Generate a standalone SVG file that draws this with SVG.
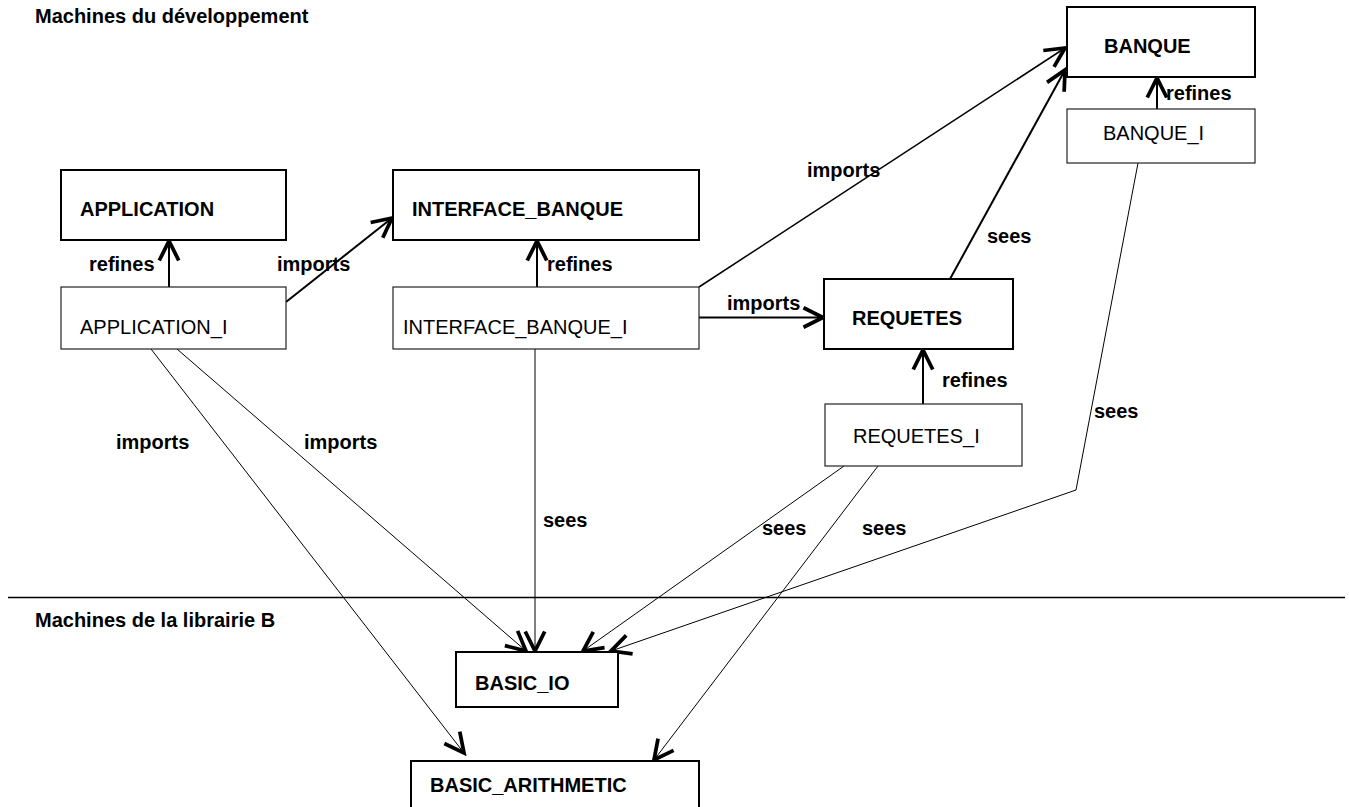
<svg xmlns="http://www.w3.org/2000/svg" width="1349" height="807" viewBox="0 0 1349 807">
<style>
text{font-family:"Liberation Sans",Arial,sans-serif;font-size:20px;fill:#000}
.b{font-weight:bold}
.m{fill:#fff;stroke:#000;stroke-width:2}
.i{fill:#fff;stroke:#222;stroke-width:1.2}
.thick{fill:none;stroke:#000;stroke-width:2;marker-end:url(#ah)}
.mid{fill:none;stroke:#000;stroke-width:1.5;marker-end:url(#ah)}
.thin{fill:none;stroke:#000;stroke-width:1;marker-end:url(#ah)}
</style>
<defs>
<marker id="ah" markerUnits="userSpaceOnUse" markerWidth="30" markerHeight="30" viewBox="-15 -10 20 20" refX="0" refY="0" orient="auto">
<path d="M-13,-6.5 L0,0 L-13,6.5" fill="none" stroke="#000" stroke-width="2.5"/>
</marker>
</defs>
<rect width="1349" height="807" fill="#fff"/>
<text class="b" x="35" y="23">Machines du développement</text>
<line x1="8" y1="597.5" x2="1345" y2="597.5" stroke="#000" stroke-width="1.4"/>
<text class="b" x="35" y="627">Machines de la librairie B</text>

<g id="connectors">
<line class="thick" x1="169" y1="287" x2="169" y2="241"/>
<line class="thick" x1="286" y1="302" x2="392" y2="218"/>
<line class="thick" x1="537" y1="287" x2="537" y2="241"/>
<line class="thick" x1="699" y1="317.5" x2="823" y2="317.5"/>
<line class="mid" x1="699" y1="287" x2="1065" y2="48"/>
<line class="thick" x1="950" y1="279" x2="1065" y2="70"/>
<line class="thick" x1="1157" y1="109" x2="1157" y2="78"/>
<line class="thick" x1="923" y1="404" x2="923" y2="350"/>
<line class="thin" x1="177" y1="349" x2="526" y2="651"/>
<line class="thin" x1="151" y1="349" x2="464" y2="753"/>
<line class="thin" x1="535" y1="349" x2="535" y2="651"/>
<line class="thin" x1="844" y1="466" x2="583" y2="651"/>
<line class="thin" x1="878" y1="466" x2="654" y2="760"/>
<polyline class="thin" points="1138,163 1076,490 611,651"/>
<text class="b" x="89" y="271">refines</text>
<text class="b" x="277" y="271">imports</text>
<text class="b" x="547" y="271">refines</text>
<text class="b" x="727" y="310">imports</text>
<text class="b" x="807" y="177">imports</text>
<text class="b" x="987" y="243">sees</text>
<text class="b" x="1166" y="100">refines</text>
<text class="b" x="942" y="387">refines</text>
<text class="b" x="1094" y="418">sees</text>
<text class="b" x="116" y="449">imports</text>
<text class="b" x="304" y="449">imports</text>
<text class="b" x="543" y="527">sees</text>
<text class="b" x="762" y="535">sees</text>
<text class="b" x="862" y="535">sees</text>
</g>

<g id="APPLICATION"><rect class="m" x="61" y="170" width="225" height="70"/><text class="b" x="80" y="216">APPLICATION</text></g>
<g id="APPLICATION_I"><rect class="i" x="61" y="287" width="225" height="62"/><text x="80" y="334">APPLICATION_I</text></g>
<g id="INTERFACE_BANQUE"><rect class="m" x="393" y="170" width="306" height="70"/><text class="b" x="412" y="216">INTERFACE_BANQUE</text></g>
<g id="INTERFACE_BANQUE_I"><rect class="i" x="393" y="287" width="306" height="62"/><text x="403" y="334">INTERFACE_BANQUE_I</text></g>
<g id="BANQUE"><rect class="m" x="1067" y="7" width="188" height="70"/><text class="b" x="1104" y="53">BANQUE</text></g>
<g id="BANQUE_I"><rect class="i" x="1067" y="109" width="188" height="54"/><text x="1103" y="140">BANQUE_I</text></g>
<g id="REQUETES"><rect class="m" x="824" y="279" width="189" height="70"/><text class="b" x="852" y="325">REQUETES</text></g>
<g id="REQUETES_I"><rect class="i" x="825" y="404" width="197" height="62"/><text x="853" y="443">REQUETES_I</text></g>
<g id="BASIC_IO"><rect class="m" x="456" y="652" width="162" height="55"/><text class="b" x="475" y="690">BASIC_IO</text></g>
<g id="BASIC_ARITHMETIC"><rect class="m" x="411" y="761" width="288" height="70"/><text class="b" x="430" y="792">BASIC_ARITHMETIC</text></g>
</svg>
